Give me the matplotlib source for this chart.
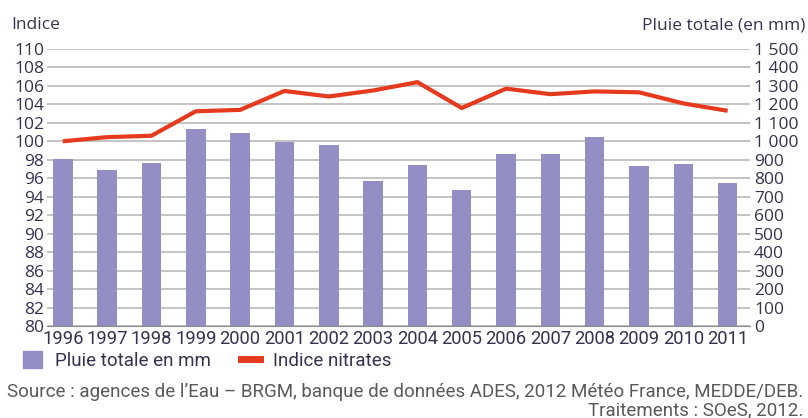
import numpy as np
import matplotlib.pyplot as plt
from matplotlib.lines import Line2D
from matplotlib.patches import Patch

years = [str(y) for y in range(1996, 2012)]
pluie = [905, 842, 884, 1065, 1043, 996, 978, 783, 871, 734, 929, 929, 1022, 864, 879, 776]
indice = [100.0, 100.45, 100.6, 103.25, 103.4, 105.45, 104.85, 105.5, 106.4, 103.6,
          105.7, 105.1, 105.4, 105.3, 104.1, 103.3]
right_ticks = [0, 100, 200, 300, 400, 500, 600, 700, 800, 900, 1000, 1100, 1200, 1300, 1400, 1500]
right_labels = ['0', '100', '200', '300', '400', '500', '600', '700', '800', '900',
                '1 000', '1 100', '1 200', '1 300', '1 400', '1 500']
left_ticks = list(range(80, 111, 2))

txt = '#35324f'
narrow = ['Roboto', 'DejaVu Sans']
plt.rcParams['font.family'] = ['Open Sans', 'DejaVu Sans']

fig = plt.figure(figsize=(8.08, 4.18), dpi=100)
ax = fig.add_axes([0.058, 0.22, 0.87, 0.663])
x = np.arange(len(years))

# bars on the rain axis (ticks shown on the right)
ax.bar(x, pluie, width=0.44, color='#938fc4', zorder=2)
ax.set_ylim(0, 1500)
ax.grid(axis='y', color='#b4b4b4', linewidth=1.1)
ax.set_axisbelow(True)
ax.set_xlim(-0.36, 15.5)
ax.set_xticks(x)
ax.set_xticklabels(years, fontfamily=narrow, fontsize=13.2)
for s in ['top', 'left', 'right']:
    ax.spines[s].set_visible(False)
ax.spines['bottom'].set_color('#8a8a8a')

# nitrate index on the left axis
ax2 = ax.twinx()
ax2.plot(x, indice, color='#e63a1e', linewidth=3, solid_capstyle='butt', zorder=3)
ax2.set_ylim(80, 110)
ax2.set_yticks(left_ticks)
ax2.yaxis.tick_left()
ax2.tick_params(axis='y', length=0, pad=2, labelsize=12.5, colors=txt)
for s in ['top', 'left', 'right', 'bottom']:
    ax2.spines[s].set_visible(False)

ax.yaxis.tick_right()
ax.set_yticks(right_ticks)
ax.set_yticklabels(right_labels)
ax.tick_params(axis='x', length=0, pad=3, colors=txt)
ax.tick_params(axis='y', length=0, pad=3, labelsize=12.5, colors=txt)

fig.text(0.014, 0.94, 'Indice', fontsize=12.5, color=txt, va='center')
fig.text(0.997, 0.94, 'Pluie totale (en mm)', fontsize=12.5, color=txt, va='center', ha='right')

handles = [Patch(color='#938fc4'), Line2D([], [], color='#e63a1e', linewidth=5)]
fig.legend(handles, ['Pluie totale en mm', 'Indice nitrates'], ncol=2,
           loc='upper left', bbox_to_anchor=(0.008, 0.2), frameon=False,
           prop={'family': narrow, 'size': 13.5}, labelcolor=txt,
           handlelength=1.0, handleheight=1.0, handletextpad=0.7, columnspacing=1.6)

fig.text(0.994, 0.062, "Source : agences de l’Eau – BRGM, banque de données ADES, 2012 Météo France, MEDDE/DEB.",
         fontfamily=narrow, fontsize=13.5, color='#595959', ha='right', va='center')
fig.text(0.994, 0.018, 'Traitements : SOeS, 2012.',
         fontfamily=narrow, fontsize=13.5, color='#595959', ha='right', va='center')

fig.savefig('out.png', dpi=100)
